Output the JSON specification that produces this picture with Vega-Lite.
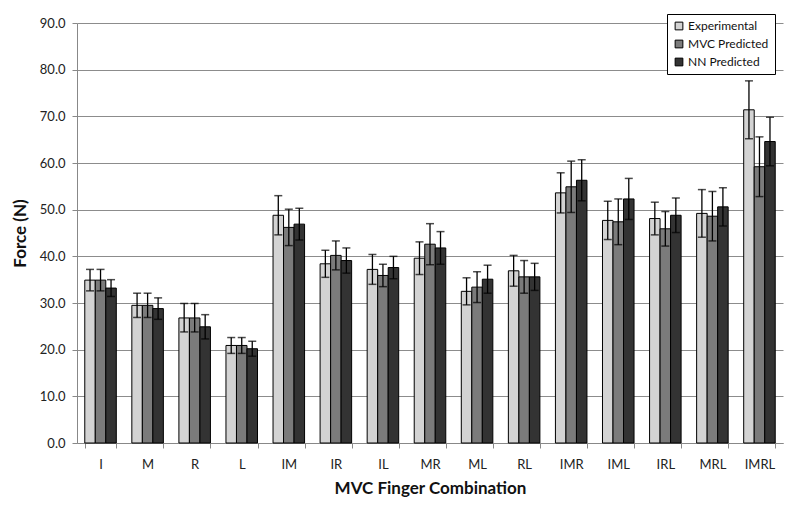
{
  "$schema": "https://vega.github.io/schema/vega-lite/v6.json",
  "autosize": {"type": "none"},
  "width": 706,
  "height": 420,
  "padding": {"left": 77, "top": 23, "right": 17, "bottom": 64},
  "background": "white",
  "config": {
    "font": "Lato",
    "view": {"stroke": null},
    "axis": {"labelFont": "Lato", "titleFont": "Lato", "labelColor": "#222", "titleColor": "#111"}
  },
  "data": {
    "values": [
      {"combo": "I", "series": "Experimental", "value": 34.9, "low": 32.6, "high": 37.2},
      {"combo": "I", "series": "MVC Predicted", "value": 34.9, "low": 32.6, "high": 37.2},
      {"combo": "I", "series": "NN Predicted", "value": 33.2, "low": 31.4, "high": 35.0},
      {"combo": "M", "series": "Experimental", "value": 29.5, "low": 26.9, "high": 32.1},
      {"combo": "M", "series": "MVC Predicted", "value": 29.5, "low": 26.9, "high": 32.1},
      {"combo": "M", "series": "NN Predicted", "value": 28.8, "low": 26.5, "high": 31.1},
      {"combo": "R", "series": "Experimental", "value": 26.8, "low": 23.8, "high": 29.9},
      {"combo": "R", "series": "MVC Predicted", "value": 26.8, "low": 23.8, "high": 29.9},
      {"combo": "R", "series": "NN Predicted", "value": 24.9, "low": 22.3, "high": 27.5},
      {"combo": "L", "series": "Experimental", "value": 20.9, "low": 19.2, "high": 22.6},
      {"combo": "L", "series": "MVC Predicted", "value": 20.9, "low": 19.2, "high": 22.6},
      {"combo": "L", "series": "NN Predicted", "value": 20.2, "low": 18.6, "high": 21.8},
      {"combo": "IM", "series": "Experimental", "value": 48.8, "low": 44.6, "high": 53.0},
      {"combo": "IM", "series": "MVC Predicted", "value": 46.2, "low": 42.3, "high": 50.1},
      {"combo": "IM", "series": "NN Predicted", "value": 46.9, "low": 43.5, "high": 50.3},
      {"combo": "IR", "series": "Experimental", "value": 38.4, "low": 35.5, "high": 41.3},
      {"combo": "IR", "series": "MVC Predicted", "value": 40.2, "low": 37.1, "high": 43.3},
      {"combo": "IR", "series": "NN Predicted", "value": 39.1, "low": 36.4, "high": 41.8},
      {"combo": "IL", "series": "Experimental", "value": 37.2, "low": 34.0, "high": 40.4},
      {"combo": "IL", "series": "MVC Predicted", "value": 35.9, "low": 33.5, "high": 38.3},
      {"combo": "IL", "series": "NN Predicted", "value": 37.6, "low": 35.2, "high": 40.0},
      {"combo": "MR", "series": "Experimental", "value": 39.6, "low": 36.1, "high": 43.1},
      {"combo": "MR", "series": "MVC Predicted", "value": 42.6, "low": 38.2, "high": 47.0},
      {"combo": "MR", "series": "NN Predicted", "value": 41.8, "low": 38.3, "high": 45.3},
      {"combo": "ML", "series": "Experimental", "value": 32.5, "low": 29.6, "high": 35.4},
      {"combo": "ML", "series": "MVC Predicted", "value": 33.4, "low": 30.1, "high": 36.7},
      {"combo": "ML", "series": "NN Predicted", "value": 35.1, "low": 32.1, "high": 38.1},
      {"combo": "RL", "series": "Experimental", "value": 36.9, "low": 33.6, "high": 40.2},
      {"combo": "RL", "series": "MVC Predicted", "value": 35.6, "low": 32.1, "high": 39.1},
      {"combo": "RL", "series": "NN Predicted", "value": 35.6, "low": 32.7, "high": 38.5},
      {"combo": "IMR", "series": "Experimental", "value": 53.6, "low": 49.3, "high": 57.9},
      {"combo": "IMR", "series": "MVC Predicted", "value": 54.9, "low": 49.4, "high": 60.4},
      {"combo": "IMR", "series": "NN Predicted", "value": 56.3, "low": 51.9, "high": 60.7},
      {"combo": "IML", "series": "Experimental", "value": 47.7, "low": 43.6, "high": 51.8},
      {"combo": "IML", "series": "MVC Predicted", "value": 47.4, "low": 42.5, "high": 52.3},
      {"combo": "IML", "series": "NN Predicted", "value": 52.3, "low": 47.9, "high": 56.7},
      {"combo": "IRL", "series": "Experimental", "value": 48.1, "low": 44.6, "high": 51.6},
      {"combo": "IRL", "series": "MVC Predicted", "value": 45.9, "low": 42.2, "high": 49.6},
      {"combo": "IRL", "series": "NN Predicted", "value": 48.8, "low": 45.1, "high": 52.5},
      {"combo": "MRL", "series": "Experimental", "value": 49.2, "low": 44.1, "high": 54.3},
      {"combo": "MRL", "series": "MVC Predicted", "value": 48.6, "low": 43.3, "high": 53.9},
      {"combo": "MRL", "series": "NN Predicted", "value": 50.6, "low": 46.5, "high": 54.7},
      {"combo": "IMRL", "series": "Experimental", "value": 71.4, "low": 65.2, "high": 77.6},
      {"combo": "IMRL", "series": "MVC Predicted", "value": 59.2, "low": 52.8, "high": 65.6},
      {"combo": "IMRL", "series": "NN Predicted", "value": 64.6, "low": 59.4, "high": 69.8}
    ]
  },
  "encoding": {
    "x": {
      "field": "combo",
      "type": "nominal",
      "sort": ["I", "M", "R", "L", "IM", "IR", "IL", "MR", "ML", "RL", "IMR", "IML", "IRL", "MRL", "IMRL"],
      "scale": {"paddingInner": 0.33, "paddingOuter": 0.165},
      "axis": {
        "title": "MVC Finger Combination",
        "titleFontSize": 17,
        "titleFontWeight": "bold",
        "titlePadding": 9,
        "labelAngle": 0,
        "labelFontSize": 13,
        "labelPadding": 10,
        "tickBand": "extent",
        "tickSize": 5,
        "tickColor": "#888",
        "domainColor": "#888",
        "grid": false
      }
    },
    "xOffset": {
      "field": "series",
      "type": "nominal",
      "sort": ["Experimental", "MVC Predicted", "NN Predicted"],
      "scale": {"paddingInner": 0, "paddingOuter": 0}
    }
  },
  "layer": [
    {
      "mark": {"type": "bar", "stroke": "black", "strokeWidth": 1},
      "encoding": {
        "y": {
          "field": "value",
          "type": "quantitative",
          "scale": {"domain": [0, 90], "nice": false},
          "axis": {
            "title": "Force (N)",
            "titleFontSize": 17,
            "titleFontWeight": "bold",
            "titlePadding": 10,
            "values": [0, 10, 20, 30, 40, 50, 60, 70, 80, 90],
            "format": ".1f",
            "labelFontSize": 13,
            "labelPadding": 7,
            "tickSize": 5,
            "tickColor": "#888",
            "domainColor": "#888",
            "gridColor": "#8c8c8c",
            "gridWidth": 1
          }
        },
        "color": {
          "field": "series",
          "type": "nominal",
          "sort": ["Experimental", "MVC Predicted", "NN Predicted"],
          "scale": {"domain": ["Experimental", "MVC Predicted", "NN Predicted"], "range": ["#d3d3d3", "#7b7b7b", "#333333"]},
          "legend": {
            "title": null,
            "orient": "none",
            "legendX": 590,
            "legendY": -9,
            "strokeColor": "black",
            "fillColor": "white",
            "padding": 6,
            "labelFontSize": 12,
            "labelColor": "#111",
            "symbolType": "square",
            "symbolSize": 60,
            "symbolStrokeColor": "black",
            "symbolStrokeWidth": 1,
            "rowPadding": 6,
            "labelOffset": 3
          }
        }
      }
    },
    {
      "mark": {"type": "rule", "color": "black", "strokeWidth": 1.3},
      "encoding": {
        "y": {"field": "low", "type": "quantitative"},
        "y2": {"field": "high"}
      }
    },
    {
      "mark": {"type": "tick", "color": "black", "size": 8, "thickness": 1.5},
      "encoding": {"y": {"field": "low", "type": "quantitative"}}
    },
    {
      "mark": {"type": "tick", "color": "black", "size": 8, "thickness": 1.5},
      "encoding": {"y": {"field": "high", "type": "quantitative"}}
    }
  ]
}
